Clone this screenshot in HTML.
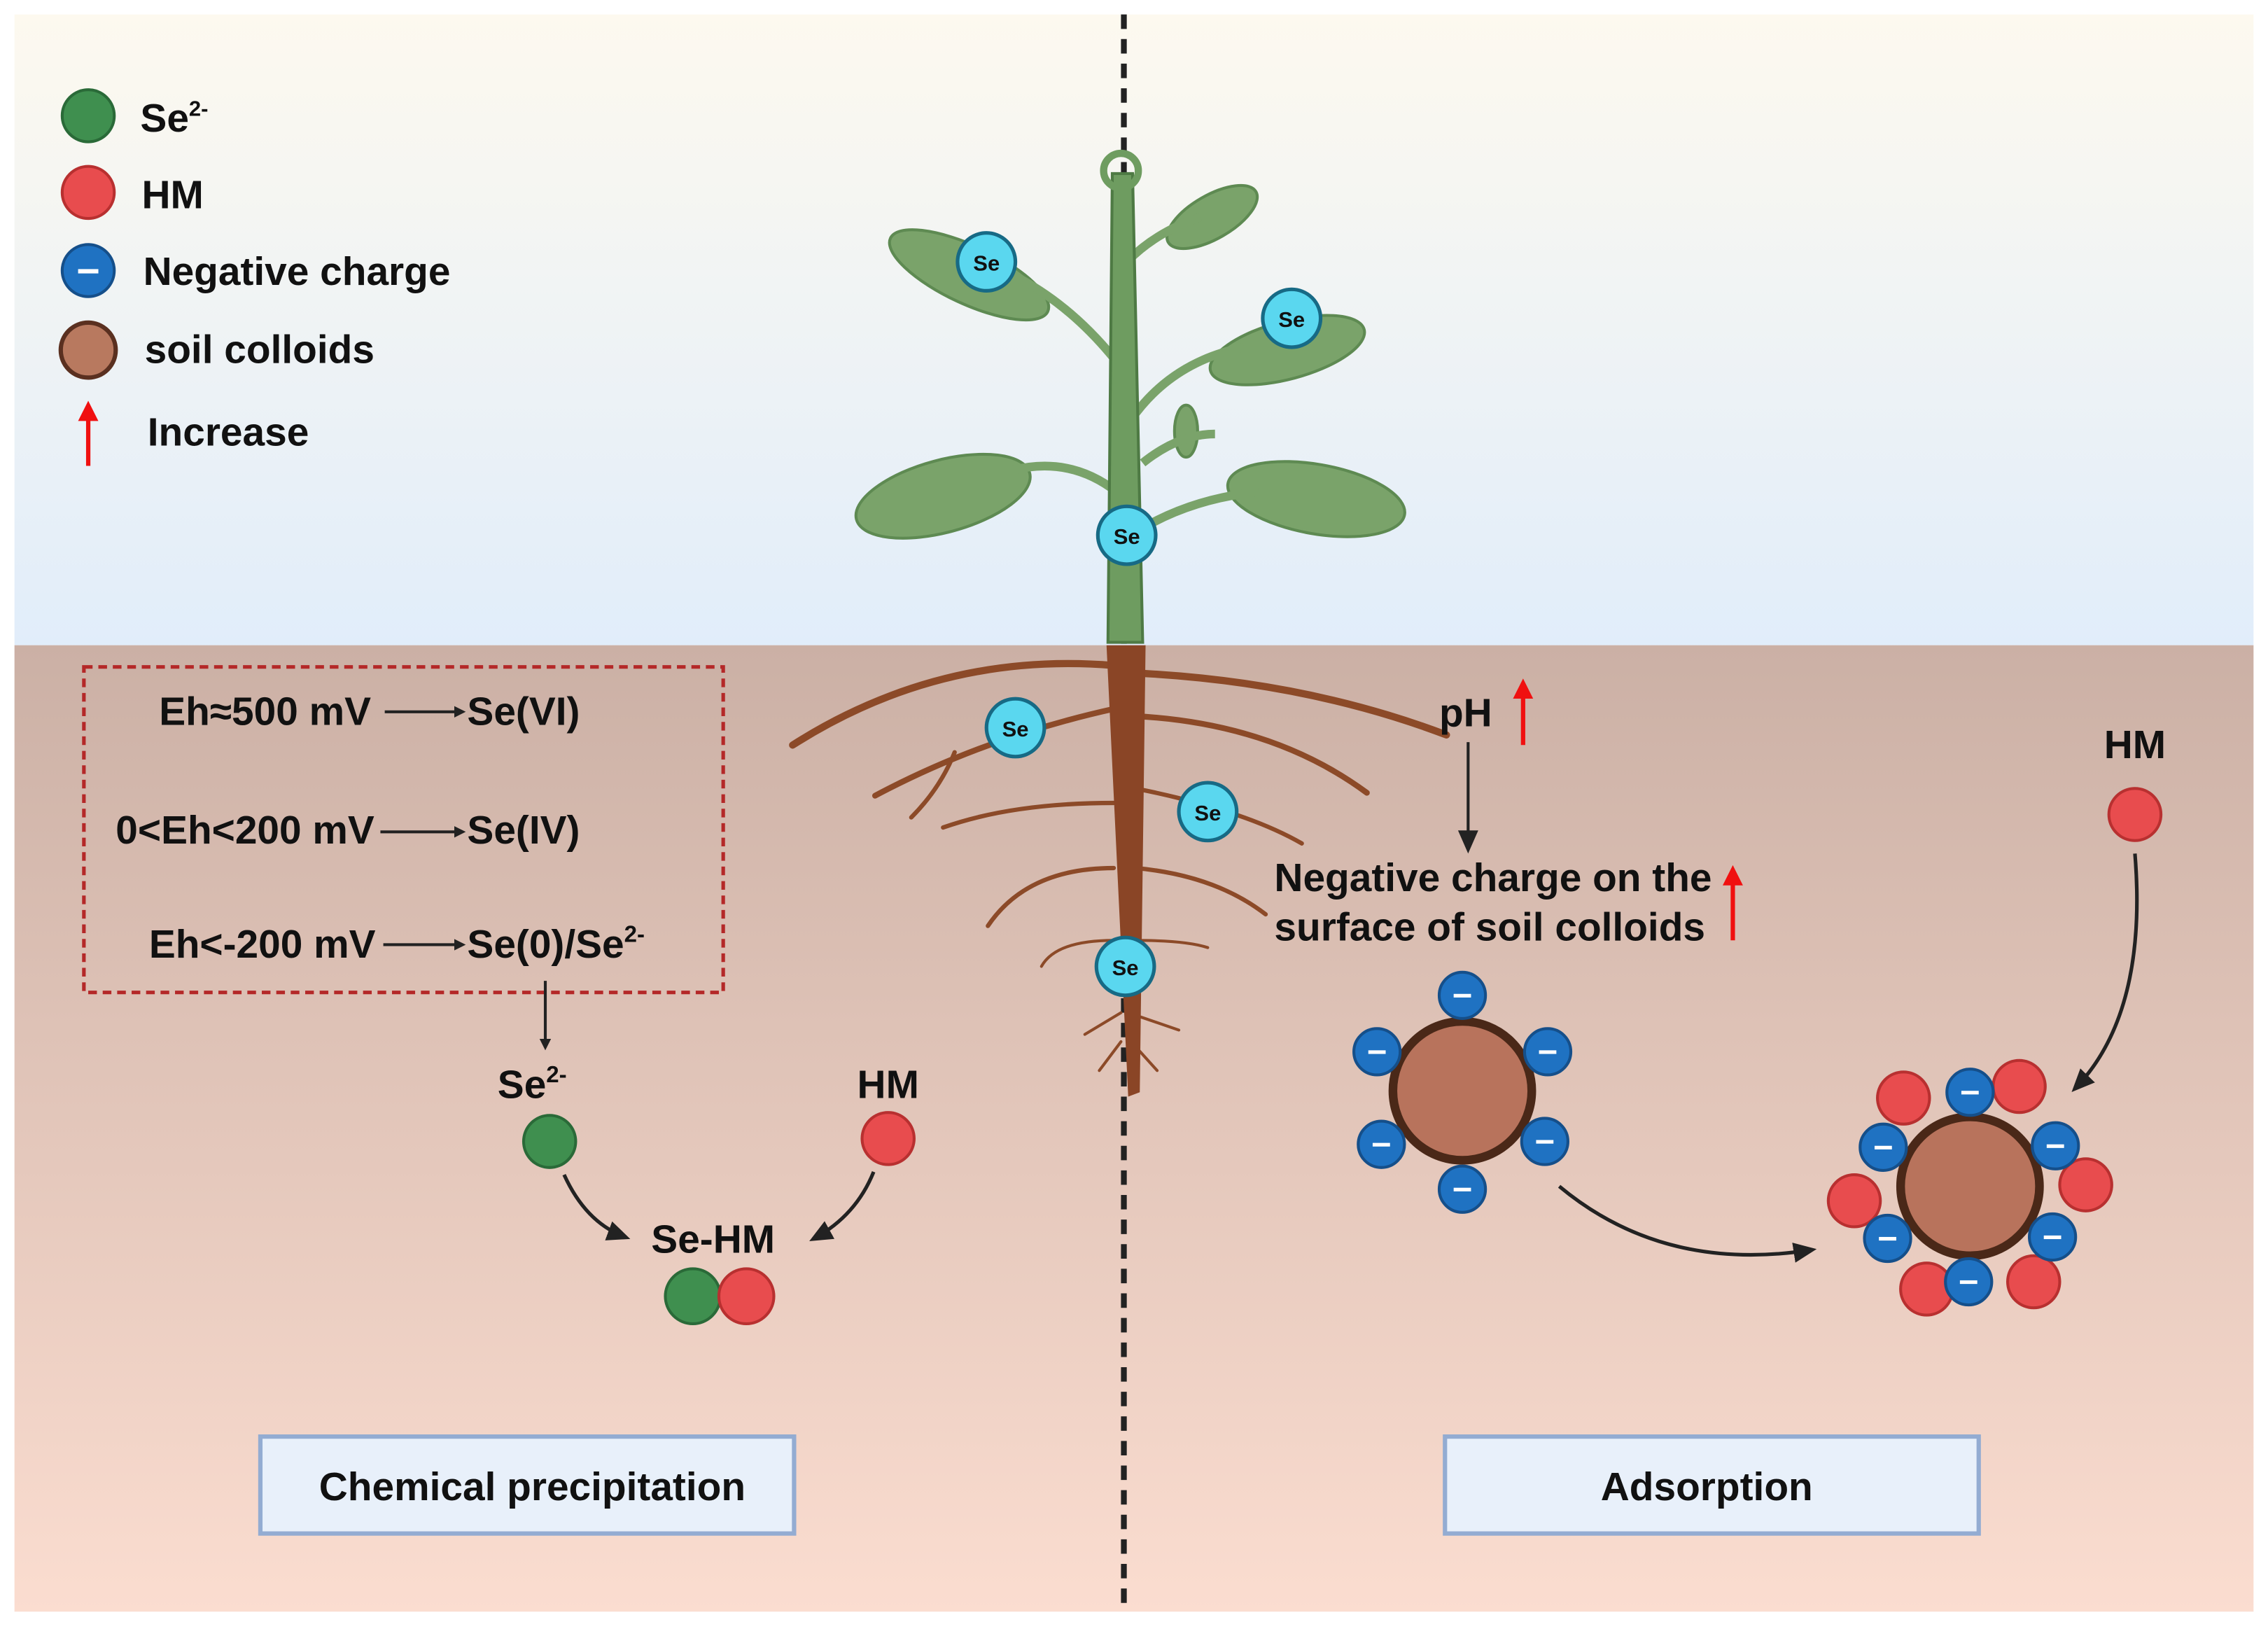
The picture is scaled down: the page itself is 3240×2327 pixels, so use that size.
<!DOCTYPE html>
<html><head><meta charset="utf-8"><style>
html,body{margin:0;padding:0;background:#fff}
svg{display:block}
text{font-family:"Liberation Sans",Arial,sans-serif;font-weight:bold;fill:#111}
</style></head><body>
<svg width="3240" height="2327" viewBox="0 0 1568 1126" preserveAspectRatio="none" xmlns="http://www.w3.org/2000/svg">
<defs>
<linearGradient id="sky" x1="0" y1="0" x2="0" y2="1"><stop offset="0" stop-color="#fdf9ef"/><stop offset="1" stop-color="#e1edfa"/></linearGradient>
<linearGradient id="soil" x1="0" y1="0" x2="0" y2="1"><stop offset="0" stop-color="#cbb0a5"/><stop offset="1" stop-color="#fbddd0"/></linearGradient>
<marker id="ah" markerWidth="8" markerHeight="8" refX="6" refY="4" orient="auto" markerUnits="userSpaceOnUse"><path d="M0,0 L8,4 L0,8 z" fill="#222"/></marker>
<marker id="ahb" markerWidth="16" markerHeight="14" refX="12" refY="7" orient="auto" markerUnits="userSpaceOnUse"><path d="M0,0 L16,7 L0,14 z" fill="#222"/></marker>
<marker id="ahr" markerWidth="14" markerHeight="14" refX="7" refY="7" orient="auto" markerUnits="userSpaceOnUse"><path d="M0,0 L14,7 L0,14 z" fill="#f01010"/></marker>
</defs>
<rect x="10" y="10" width="1548" height="436" fill="url(#sky)"/>
<rect x="10" y="446" width="1548" height="668" fill="url(#soil)"/>

<!-- dashed line (behind plant) -->
<line x1="777" y1="10" x2="777" y2="1112" stroke="#222" stroke-width="4" stroke-dasharray="10,7"/>

<!-- legend -->
<circle cx="61" cy="80" r="18" fill="#3f8f4f" stroke="#2a6a38" stroke-width="2"/>
<circle cx="61" cy="133" r="18" fill="#e84c4e" stroke="#b83030" stroke-width="2"/>
<circle cx="61" cy="187" r="18" fill="#1f72c2" stroke="#154f8a" stroke-width="2"/>
<rect x="54" y="186" width="14" height="3" fill="#fff"/>
<circle cx="61" cy="242" r="19" fill="#b8795f" stroke="#5a3020" stroke-width="3"/>
<line x1="61" y1="322" x2="61" y2="284" stroke="#f01010" stroke-width="3" marker-end="url(#ahr)"/>
<text x="97" y="91" font-size="27.5">Se<tspan font-size="15" dy="-11">2-</tspan></text>
<text x="98" y="144" font-size="27.5">HM</text>
<text x="99" y="197" font-size="27.5">Negative charge</text>
<text x="100" y="251" font-size="27.5">soil colloids</text>
<text x="102" y="308" font-size="27.5">Increase</text>

<!-- plant -->
<g fill="#7aa36a" stroke="#5e8a52" stroke-width="2">
<ellipse cx="670" cy="190" rx="60" ry="20" transform="rotate(25 670 190)"/>
<ellipse cx="838" cy="150" rx="35" ry="15" transform="rotate(-30 838 150)"/>
<ellipse cx="890" cy="242" rx="55" ry="20" transform="rotate(-15 890 242)"/>
<ellipse cx="652" cy="343" rx="62" ry="25" transform="rotate(-15 652 343)"/>
<ellipse cx="910" cy="345" rx="62" ry="24" transform="rotate(10 910 345)"/>
<ellipse cx="820" cy="298" rx="8" ry="18"/>
</g>
<g stroke="#7aa36a" stroke-width="6" fill="none">
<path d="M772 250 Q740 210 700 190"/><path d="M780 180 Q800 160 830 150"/>
<path d="M782 290 Q810 250 860 240"/><path d="M772 340 Q740 315 700 325"/>
<path d="M782 370 Q820 345 870 340"/><path d="M790 320 Q815 300 840 300"/>
</g>
<path d="M766 444 L769 120 L783 120 L790 444 z" fill="#6e9c60" stroke="#4e7a44" stroke-width="2"/>
<circle cx="775" cy="118" r="12" fill="none" stroke="#6e9c60" stroke-width="5"/>
<!-- roots -->
<g stroke="#8c4a28" fill="none" stroke-linecap="round">
<path d="M770 460 Q650 450 548 515" stroke-width="5"/>
<path d="M770 490 Q680 510 605 550" stroke-width="4"/>
<path d="M660 520 Q650 545 630 565" stroke-width="3"/>
<path d="M780 465 Q900 470 1000 508" stroke-width="5"/>
<path d="M785 495 Q880 500 945 548" stroke-width="4"/>
<path d="M770 555 Q700 555 652 572" stroke-width="3"/>
<path d="M785 545 Q860 560 900 583" stroke-width="3"/>
<path d="M770 600 Q710 600 683 640" stroke-width="3"/>
<path d="M785 600 Q840 605 875 632" stroke-width="3"/>
<path d="M770 650 Q730 650 720 668" stroke-width="2"/>
<path d="M785 650 Q820 650 835 655" stroke-width="2"/>
<path d="M775 700 L750 715 M780 700 L815 712 M775 720 L760 740 M782 720 L800 740" stroke-width="2"/>
</g>
<path d="M765 446 L792 446 L788 755 L780 758 z" fill="#8a4526"/>

<!-- Se circles -->
<g>
<circle cx="682" cy="181" r="20" fill="#5ad7ef" stroke="#176a85" stroke-width="2.5"/>
<circle cx="893" cy="220" r="20" fill="#5ad7ef" stroke="#176a85" stroke-width="2.5"/>
<circle cx="779" cy="370" r="20" fill="#5ad7ef" stroke="#176a85" stroke-width="2.5"/>
<circle cx="702" cy="503" r="20" fill="#5ad7ef" stroke="#176a85" stroke-width="2.5"/>
<circle cx="835" cy="561" r="20" fill="#5ad7ef" stroke="#176a85" stroke-width="2.5"/>
<circle cx="778" cy="668" r="20" fill="#5ad7ef" stroke="#176a85" stroke-width="2.5"/>
</g>
<g font-size="15" text-anchor="middle">
<text x="682" y="187">Se</text><text x="893" y="226">Se</text><text x="779" y="376">Se</text>
<text x="702" y="509">Se</text><text x="835" y="567">Se</text><text x="778" y="674">Se</text>
</g>

<!-- left -->
<rect x="58" y="461" width="442" height="225" fill="none" stroke="#b42828" stroke-width="2.5" stroke-dasharray="6,4"/>
<g font-size="27.5">
<text x="110" y="501">Eh≈500 mV</text><text x="323" y="501">Se(VI)</text>
<text x="80" y="583">0&lt;Eh&lt;200 mV</text><text x="323" y="583">Se(IV)</text>
<text x="103" y="662">Eh&lt;-200 mV</text><text x="323" y="662">Se(0)/Se<tspan font-size="16" dy="-11">2-</tspan></text>
</g>
<g stroke="#222" stroke-width="2" marker-end="url(#ah)">
<line x1="266" y1="492" x2="320" y2="492"/>
<line x1="263" y1="575" x2="320" y2="575"/>
<line x1="265" y1="653" x2="320" y2="653"/>
<line x1="377" y1="678" x2="377" y2="724"/>
</g>
<text x="344" y="759" font-size="27.5">Se<tspan font-size="16" dy="-11">2-</tspan></text>
<text x="614" y="759" font-size="27.5" text-anchor="middle">HM</text>
<circle cx="380" cy="789" r="18" fill="#3f8f4f" stroke="#2a6a38" stroke-width="2"/>
<circle cx="614" cy="787" r="18" fill="#e84c4e" stroke="#b83030" stroke-width="2"/>
<path d="M390 812 Q405 845 432 855" fill="none" stroke="#222" stroke-width="2.5" marker-end="url(#ahb)"/>
<path d="M604 810 Q592 840 563 856" fill="none" stroke="#222" stroke-width="2.5" marker-end="url(#ahb)"/>
<text x="493" y="866" font-size="27.5" text-anchor="middle">Se-HM</text>
<circle cx="479" cy="896" r="19" fill="#3f8f4f" stroke="#2a6a38" stroke-width="2"/>
<circle cx="516" cy="896" r="19" fill="#e84c4e" stroke="#b83030" stroke-width="2"/>
<rect x="180" y="993" width="369" height="67" fill="#e8f0fa" stroke="#93acd2" stroke-width="3"/>
<text x="368" y="1037" font-size="27.5" text-anchor="middle">Chemical precipitation</text>
<rect x="999" y="993" width="369" height="67" fill="#e8f0fa" stroke="#93acd2" stroke-width="3"/>
<text x="1180" y="1037" font-size="27.5" text-anchor="middle">Adsorption</text>

<!-- right -->
<text x="995" y="502" font-size="27.5">pH</text>
<line x1="1053" y1="515" x2="1053" y2="476" stroke="#f01010" stroke-width="3" marker-end="url(#ahr)"/>
<line x1="1015" y1="513" x2="1015" y2="586" stroke="#222" stroke-width="2" marker-end="url(#ahb)"/>
<text x="881" y="616" font-size="27.5">Negative charge on the</text>
<text x="881" y="650" font-size="27.5">surface of soil colloids</text>
<line x1="1198" y1="650" x2="1198" y2="605" stroke="#f01010" stroke-width="3" marker-end="url(#ahr)"/>
<text x="1476" y="524" font-size="27.5" text-anchor="middle">HM</text>
<circle cx="1476" cy="563" r="18" fill="#e84c4e" stroke="#b83030" stroke-width="2"/>
<path d="M1476 590 Q1485 700 1435 752" fill="none" stroke="#222" stroke-width="2.5" marker-end="url(#ahb)"/>
<path d="M1078 820 Q1150 880 1252 864" fill="none" stroke="#222" stroke-width="2.5" marker-end="url(#ahb)"/>

<circle cx="1011" cy="754" r="48" fill="#b8735c" stroke="#4a2818" stroke-width="6"/>
<g fill="#1f72c2" stroke="#154f8a" stroke-width="2">
<circle cx="1011" cy="688" r="16"/><circle cx="952" cy="727" r="16"/><circle cx="1070" cy="727" r="16"/>
<circle cx="955" cy="791" r="16"/><circle cx="1068" cy="789" r="16"/><circle cx="1011" cy="822" r="16"/>
</g>
<g fill="#fff">
<rect x="1005" y="687" width="12" height="2.5"/><rect x="946" y="726" width="12" height="2.5"/><rect x="1064" y="726" width="12" height="2.5"/>
<rect x="949" y="790" width="12" height="2.5"/><rect x="1062" y="788" width="12" height="2.5"/><rect x="1005" y="821" width="12" height="2.5"/>
</g>

<circle cx="1362" cy="820" r="48" fill="#b8735c" stroke="#4a2818" stroke-width="6"/>
<g fill="#e84c4e" stroke="#b83030" stroke-width="2">
<circle cx="1316" cy="759" r="18"/><circle cx="1396" cy="751" r="18"/><circle cx="1282" cy="830" r="18"/>
<circle cx="1442" cy="819" r="18"/><circle cx="1332" cy="891" r="18"/><circle cx="1406" cy="886" r="18"/>
</g>
<g fill="#1f72c2" stroke="#154f8a" stroke-width="2">
<circle cx="1362" cy="755" r="16"/><circle cx="1302" cy="793" r="16"/><circle cx="1421" cy="792" r="16"/>
<circle cx="1305" cy="856" r="16"/><circle cx="1419" cy="855" r="16"/><circle cx="1361" cy="886" r="16"/>
</g>
<g fill="#fff">
<rect x="1356" y="754" width="12" height="2.5"/><rect x="1296" y="792" width="12" height="2.5"/><rect x="1415" y="791" width="12" height="2.5"/>
<rect x="1299" y="855" width="12" height="2.5"/><rect x="1413" y="854" width="12" height="2.5"/><rect x="1355" y="885" width="12" height="2.5"/>
</g>
</svg>
</body></html>
